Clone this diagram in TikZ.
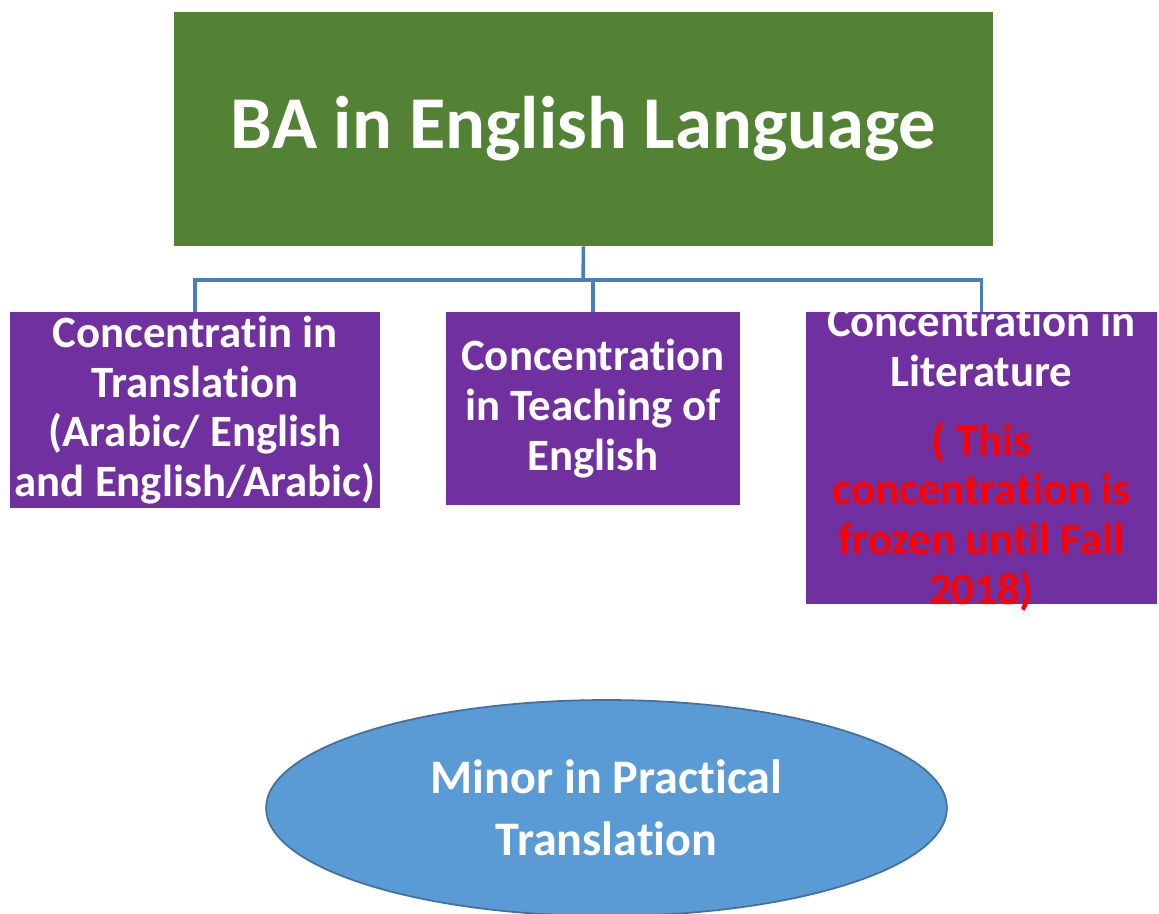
\documentclass[tikz,border=0pt]{standalone}
\usepackage{fontspec}
\setmainfont{Carlito}[Ligatures={NoCommon,NoContextual}]
\usetikzlibrary{shapes.geometric}
\definecolor{bagreen}{HTML}{548235}
\definecolor{concpurple}{HTML}{7030A0}
\definecolor{minorblue}{HTML}{5B9BD5}
\definecolor{minoredge}{HTML}{41719C}
\definecolor{linkblue}{HTML}{4A7EBB}
\begin{document}
\begin{tikzpicture}[x=0.02cm, y=-0.02cm,
    concbox/.style={fill=concpurple, inner sep=0pt, text=white, align=center,
      font=\fontsize{25.5}{28.3}\selectfont\bfseries},
    link/.style={linkblue, line width=2pt}]
      \useasboundingbox (0, 0) rectangle (1159, 913);
      \node [fill=bagreen, minimum width=16.38cm, minimum height=4.68cm, text=white,
        font=\fontsize{42.4}{50}\selectfont\bfseries] (ba) at (583.5, 129) {BA in English Language};
      \node [concbox, minimum width=7.4cm, minimum height=3.92cm] (trans) at (195, 410)
        {Concentratin in\\Translation\\(Arabic/ English\\and English/Arabic)};
      \node [concbox, minimum width=5.88cm, minimum height=3.86cm] (teach) at (593, 408.5)
        {Concentration\\in Teaching of\\English};
      \node [concbox, minimum width=7.02cm, minimum height=5.84cm] (lit) at (981.5, 458) {};
      \node [concbox, fill=none] (littext) at (lit.center)
        {Concentration in\\Literature\\[11pt]\textcolor{red}{( This}\\\textcolor{red}{concentration is}\\\textcolor{red}{frozen until Fall}\\\textcolor{red}{2018)}};
      \node [ellipse, fill=minorblue, draw=minoredge, line width=1pt, minimum width=13.62cm,
        minimum height=4.32cm, text=white, align=center,
        font=\fontsize{27.4}{35}\selectfont\bfseries] (minor) at (606.5, 808)
        {Minor in Practical\\Translation};
      \coordinate (bus) at (583, 280);
      \draw [link] (ba.south) -- (bus);
      \draw [link] (trans.north) |- (bus) -| (lit.north);
      \draw [link] (teach.north) -- (teach.north |- bus);
    \end{tikzpicture}
\end{document}
